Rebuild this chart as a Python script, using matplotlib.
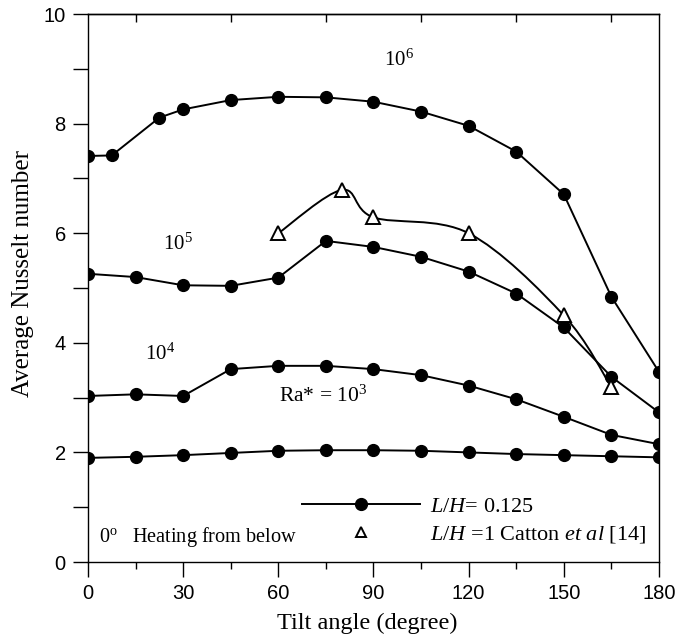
import matplotlib
matplotlib.use('Agg')
import matplotlib.pyplot as plt
from matplotlib.lines import Line2D
from matplotlib.path import Path
from matplotlib.patches import PathPatch
from matplotlib.ticker import MultipleLocator

plt.rcParams['font.family'] = 'Liberation Serif'
plt.rcParams['mathtext.fontset'] = 'custom'
plt.rcParams['mathtext.rm'] = 'Liberation Serif'
plt.rcParams['mathtext.it'] = 'Liberation Serif:italic'

# tilt angles (degree)
angles = [0, 15, 30, 45, 60, 75, 90, 105, 120, 135, 150, 165, 180]
angles_ra6 = [0, 7.5, 22.5, 30, 45, 60, 75, 90, 105, 120, 135, 150, 165, 180]

# average Nusselt number, L/H = 0.125
nu_ra3 = [1.90, 1.92, 1.95, 1.99, 2.03, 2.04, 2.04, 2.03, 2.00, 1.97, 1.95, 1.93, 1.91]
nu_ra4 = [3.03, 3.06, 3.03, 3.52, 3.58, 3.58, 3.52, 3.41, 3.22, 2.97, 2.65, 2.32, 2.15]
nu_ra5 = [5.26, 5.20, 5.05, 5.04, 5.19, 5.86, 5.75, 5.57, 5.30, 4.90, 4.28, 3.38, 2.73]
nu_ra6 = [7.41, 7.42, 8.11, 8.26, 8.43, 8.49, 8.48, 8.40, 8.22, 7.96, 7.49, 6.71, 4.84, 3.47]

# L/H = 1, Catton et al [14]
catton_angles = [60, 80, 90, 120, 150, 165]
catton_nu = [6.00, 6.79, 6.29, 6.00, 4.50, 3.19]

top_ticks = [15, 45, 75, 105, 135, 165]


def smooth_path(xs, ys):
    # Catmull-Rom curve through the points, drawn as cubic Bezier segments
    pts = list(zip(xs, ys))
    n = len(pts)
    verts = [pts[0]]
    codes = [Path.MOVETO]
    for i in range(n - 1):
        p0 = pts[i - 1] if i > 0 else pts[i]
        p1 = pts[i]
        p2 = pts[i + 1]
        p3 = pts[i + 2] if i + 2 < n else pts[i + 1]
        c1 = (p1[0] + (p2[0] - p0[0]) / 6, p1[1] + (p2[1] - p0[1]) / 6)
        c2 = (p2[0] - (p3[0] - p1[0]) / 6, p2[1] - (p3[1] - p1[1]) / 6)
        verts += [c1, c2, p2]
        codes += [Path.CURVE4] * 3
    return Path(verts, codes)


fig = plt.figure(figsize=(6.79, 6.39), dpi=100)
ax = fig.add_axes([0.1296, 0.1205, 0.8409, 0.8575])

line_kw = dict(color='black', lw=1.4, marker='o', markersize=8.5,
               markerfacecolor='black', markeredgecolor='black')
ax.plot(angles, nu_ra3, **line_kw)
ax.plot(angles, nu_ra4, **line_kw)
ax.plot(angles, nu_ra5, **line_kw)
ax.plot(angles_ra6, nu_ra6, **line_kw)

ax.add_patch(PathPatch(smooth_path(catton_angles, catton_nu), facecolor='none',
                       edgecolor='black', lw=1.4))
ax.plot(catton_angles, catton_nu, linestyle='none', marker='^', markersize=10,
        markerfacecolor='white', markeredgecolor='black', markeredgewidth=1.4)

ax.set_xlim(0, 180)
ax.set_ylim(0, 10)
ax.xaxis.set_major_locator(MultipleLocator(30))
ax.xaxis.set_minor_locator(MultipleLocator(15))
ax.yaxis.set_major_locator(MultipleLocator(2))
ax.yaxis.set_minor_locator(MultipleLocator(1))

ax.tick_params(axis='x', which='major', direction='out', length=11, width=1,
               top=False, labelsize=14.5, pad=5)
ax.tick_params(axis='x', which='minor', direction='out', length=5, width=1,
               top=False)
ax.tick_params(axis='y', which='both', direction='out', length=11, width=1,
               right=False, labelsize=14.5, pad=5)
for lab in ax.get_xticklabels() + ax.get_yticklabels():
    lab.set_fontfamily('Liberation Sans')
for s in ax.spines.values():
    s.set_linewidth(1)

# inward ticks along the top edge
sec = ax.secondary_xaxis('top')
sec.set_xticks(top_ticks)
sec.tick_params(direction='in', length=6, width=1, labeltop=False)
sec.spines['top'].set_linewidth(1)

ax.set_xlabel('Tilt angle (degree)', fontsize=17.5)
ax.xaxis.set_label_coords(0.489, -0.093)
ax.set_ylabel('Average Nusselt number', fontsize=18)
ax.yaxis.set_label_coords(-0.095, 0.527)

ax.text(98, 9.16, r'10$^{6}$', fontsize=15, ha='center', va='center')
ax.text(28.5, 5.80, r'10$^{5}$', fontsize=15, ha='center', va='center')
ax.text(22.7, 3.80, r'10$^{4}$', fontsize=15, ha='center', va='center')
ax.text(74, 3.03, r'Ra* = 10$^{3}$', fontsize=15.5, ha='center', va='center')
ax.text(3.6, 0.46, r'0$^{\rm o}$   Heating from below', fontsize=14.6,
        ha='left', va='center')

handles = [
    Line2D([], [], color='black', lw=1.4, marker='o', markersize=8.5,
           markerfacecolor='black'),
    Line2D([], [], linestyle='none', marker='^', markersize=7,
           markerfacecolor='white', markeredgecolor='black', markeredgewidth=1.4),
]
labels = [r'$L/H$= 0.125', r'$L/H$ =1 Catton $et\ al$ [14]']
ax.legend(handles, labels, loc='lower left', bbox_to_anchor=(0.36, 0.015),
          frameon=False, fontsize=16, handlelength=5.3, handletextpad=0.45,
          labelspacing=0.32, numpoints=1, borderaxespad=0)

fig.savefig('out.png', dpi=100)
